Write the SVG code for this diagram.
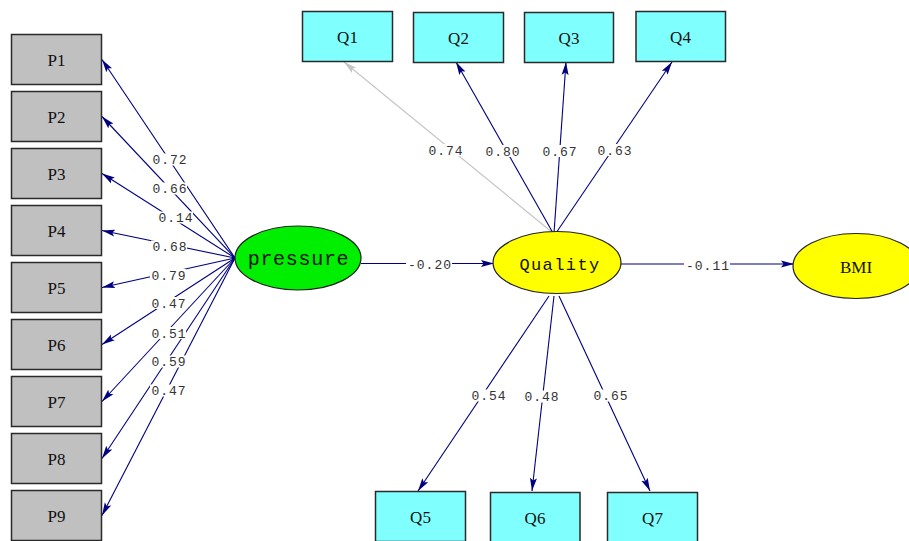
<svg xmlns="http://www.w3.org/2000/svg" width="909" height="541" viewBox="0 0 909 541">
  <style>
    .obs-p { fill: #c0c0c0; stroke: #2a2a2a; stroke-width: 1.5; }
    .obs-q { fill: #80ffff; stroke: #2a2a2a; stroke-width: 1.5; }
    .lat { stroke: #222; stroke-width: 1.2; }
    .box-txt { font-family: "Liberation Serif", "Times New Roman", serif; font-size: 17px; fill: #111; text-anchor: middle; }
    .lat-txt { font-family: "Liberation Mono", "Courier New", monospace; fill: #111; text-anchor: middle; }
    .path { stroke: #000080; stroke-width: 1.1; fill: none; marker-end: url(#head); }
    .path-grey { stroke: #c4c4c4; stroke-width: 1.1; fill: none; marker-end: url(#head-grey); }
    .coef { font-family: "Liberation Mono", "Courier New", monospace; font-size: 13px; letter-spacing: 1px; fill: #333; text-anchor: middle; }
    .coef-bg { fill: #ffffff; }
  </style>
  <defs>
    <marker id="head" viewBox="0 0 13 8" markerWidth="13" markerHeight="8" refX="13" refY="4" orient="auto" markerUnits="userSpaceOnUse">
      <path d="M0,0.5 L13,4 L0,7.5 L2.5,4 z" fill="#000080"/>
    </marker>
    <marker id="head-grey" viewBox="0 0 13 8" markerWidth="13" markerHeight="8" refX="13" refY="4" orient="auto" markerUnits="userSpaceOnUse">
      <path d="M0,0.5 L13,4 L0,7.5 L2.5,4 z" fill="#c4c4c4"/>
    </marker>
  </defs>

  <rect width="909" height="541" fill="#ffffff"/>

  <!-- paths -->
  <g id="connectors">
    <!-- pressure -> P1..P9 -->
    <line class="path" x1="235" y1="258" x2="102" y2="59.5"/>
    <line class="path" x1="235" y1="258" x2="102" y2="116.5"/>
    <line class="path" x1="235" y1="258" x2="102" y2="173.5"/>
    <line class="path" x1="235" y1="258" x2="102" y2="230.5"/>
    <line class="path" x1="235" y1="258" x2="102" y2="287.5"/>
    <line class="path" x1="235" y1="258" x2="102" y2="344.5"/>
    <line class="path" x1="235" y1="258" x2="102" y2="401.5"/>
    <line class="path" x1="235" y1="258" x2="102" y2="458.5"/>
    <line class="path" x1="235" y1="258" x2="102" y2="515.5"/>
    <!-- pressure -> Quality -> BMI -->
    <line class="path" x1="361" y1="263.5" x2="494" y2="263.5"/>
    <line class="path" x1="621" y1="264" x2="794" y2="264"/>
    <!-- Quality -> Q1..Q4 -->
    <line class="path-grey" x1="553" y1="233" x2="344" y2="62"/>
    <line class="path" x1="553" y1="233" x2="456" y2="62"/>
    <line class="path" x1="554" y1="233" x2="566" y2="62"/>
    <line class="path" x1="556" y1="233" x2="672" y2="62"/>
    <!-- Quality -> Q5..Q7 -->
    <line class="path" x1="549" y1="296" x2="418" y2="491"/>
    <line class="path" x1="554" y1="296" x2="532" y2="491"/>
    <line class="path" x1="559" y1="296" x2="650" y2="491"/>

    <!-- coefficients -->
    <g>
      <rect class="coef-bg" x="151" y="153.5" width="36" height="12"/><text class="coef" x="170" y="164">0.72</text>
      <rect class="coef-bg" x="151" y="182.5" width="36" height="12"/><text class="coef" x="170" y="193">0.66</text>
      <rect class="coef-bg" x="157" y="211.5" width="36" height="12"/><text class="coef" x="176" y="222">0.14</text>
      <rect class="coef-bg" x="151" y="240.5" width="36" height="12"/><text class="coef" x="170" y="251">0.68</text>
      <rect class="coef-bg" x="150" y="269" width="36" height="12"/><text class="coef" x="169" y="279.5">0.79</text>
      <rect class="coef-bg" x="150" y="297" width="36" height="12"/><text class="coef" x="169" y="307.5">0.47</text>
      <rect class="coef-bg" x="150" y="327" width="36" height="12"/><text class="coef" x="169" y="337.5">0.51</text>
      <rect class="coef-bg" x="150" y="355.5" width="36" height="12"/><text class="coef" x="169" y="366">0.59</text>
      <rect class="coef-bg" x="150" y="384.5" width="36" height="12"/><text class="coef" x="169" y="395">0.47</text>

      <rect class="coef-bg" x="406" y="258.5" width="46" height="12"/><text class="coef" x="430" y="269">-0.20</text>
      <rect class="coef-bg" x="684" y="259" width="46" height="12"/><text class="coef" x="708" y="269.5">-0.11</text>

      <rect class="coef-bg" x="427" y="144" width="36" height="12"/><text class="coef" x="446" y="154.5">0.74</text>
      <rect class="coef-bg" x="484" y="145" width="36" height="12"/><text class="coef" x="503" y="155.5">0.80</text>
      <rect class="coef-bg" x="541" y="145" width="36" height="12"/><text class="coef" x="560" y="155.5">0.67</text>
      <rect class="coef-bg" x="596" y="144" width="36" height="12"/><text class="coef" x="615" y="154.5">0.63</text>

      <rect class="coef-bg" x="470" y="389.5" width="36" height="12"/><text class="coef" x="489" y="400">0.54</text>
      <rect class="coef-bg" x="523" y="390.5" width="36" height="12"/><text class="coef" x="542" y="401">0.48</text>
      <rect class="coef-bg" x="592" y="389.5" width="36" height="12"/><text class="coef" x="611" y="400">0.65</text>
    </g>
  </g>

  <!-- observed indicators of pressure -->
  <g id="P1"><rect class="obs-p" x="11.5" y="34.5" width="90" height="50"/><text class="box-txt" x="56.5" y="65.5">P1</text></g>
  <g id="P2"><rect class="obs-p" x="11.5" y="91.5" width="90" height="50"/><text class="box-txt" x="56.5" y="122.5">P2</text></g>
  <g id="P3"><rect class="obs-p" x="11.5" y="148.5" width="90" height="50"/><text class="box-txt" x="56.5" y="179.5">P3</text></g>
  <g id="P4"><rect class="obs-p" x="11.5" y="205.5" width="90" height="50"/><text class="box-txt" x="56.5" y="236.5">P4</text></g>
  <g id="P5"><rect class="obs-p" x="11.5" y="262.5" width="90" height="50"/><text class="box-txt" x="56.5" y="293.5">P5</text></g>
  <g id="P6"><rect class="obs-p" x="11.5" y="319.5" width="90" height="50"/><text class="box-txt" x="56.5" y="350.5">P6</text></g>
  <g id="P7"><rect class="obs-p" x="11.5" y="376.5" width="90" height="50"/><text class="box-txt" x="56.5" y="407.5">P7</text></g>
  <g id="P8"><rect class="obs-p" x="11.5" y="433.5" width="90" height="50"/><text class="box-txt" x="56.5" y="464.5">P8</text></g>
  <g id="P9"><rect class="obs-p" x="11.5" y="490.5" width="90" height="50"/><text class="box-txt" x="56.5" y="521.5">P9</text></g>

  <!-- observed indicators of Quality -->
  <g id="Q1"><rect class="obs-q" x="302.5" y="11.5" width="90" height="50"/><text class="box-txt" x="347.5" y="42.5">Q1</text></g>
  <g id="Q2"><rect class="obs-q" x="413.5" y="12.5" width="90" height="50"/><text class="box-txt" x="458.5" y="43.5">Q2</text></g>
  <g id="Q3"><rect class="obs-q" x="524.5" y="12.5" width="89" height="50"/><text class="box-txt" x="569" y="43.5">Q3</text></g>
  <g id="Q4"><rect class="obs-q" x="636" y="11.5" width="89.5" height="50"/><text class="box-txt" x="680.5" y="42.5">Q4</text></g>
  <g id="Q5"><rect class="obs-q" x="375.5" y="491.5" width="90" height="50"/><text class="box-txt" x="420.5" y="522.5">Q5</text></g>
  <g id="Q6"><rect class="obs-q" x="490.5" y="492.5" width="89.5" height="50"/><text class="box-txt" x="535" y="523.5">Q6</text></g>
  <g id="Q7"><rect class="obs-q" x="607.5" y="492.5" width="90" height="50"/><text class="box-txt" x="652.5" y="523.5">Q7</text></g>

  <!-- latent variables -->
  <g id="pressure">
    <ellipse class="lat" cx="298" cy="258" rx="63" ry="32" fill="#00ee00"/>
    <text class="lat-txt" x="298.5" y="265" font-size="20" letter-spacing="0.7">pressure</text>
  </g>
  <g id="Quality">
    <ellipse class="lat" cx="557" cy="262.5" rx="64" ry="31" fill="#ffff00"/>
    <text class="lat-txt" x="560" y="269.5" font-size="17" letter-spacing="1.4">Quality</text>
  </g>
  <g id="BMI">
    <ellipse class="lat" cx="856" cy="266" rx="63" ry="32.5" fill="#ffff00"/>
    <text class="box-txt" x="856" y="272.5" font-size="18">BMI</text>
  </g>
</svg>
